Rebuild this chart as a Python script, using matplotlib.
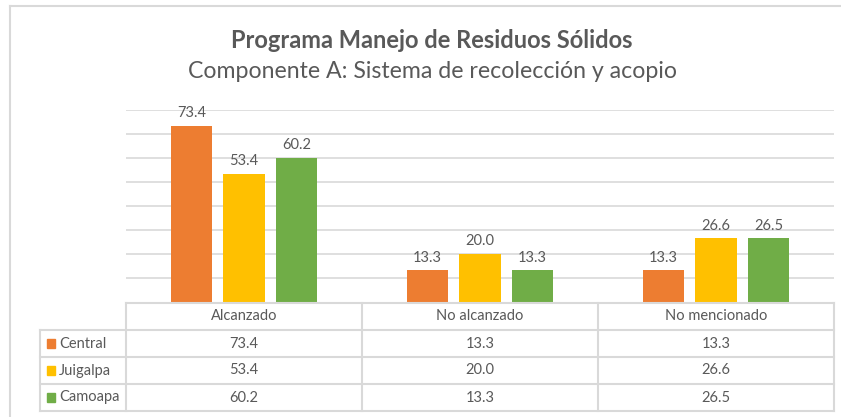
import matplotlib.pyplot as plt
from matplotlib.patches import Rectangle
import numpy as np

plt.rcParams['font.family'] = ['Lato', 'DejaVu Sans']

categories = ['Alcanzado', 'No alcanzado', 'No mencionado']
series = ['Central', 'Juigalpa', 'Camoapa']
central = [73.4, 13.3, 13.3]
juigalpa = [53.4, 20.0, 26.6]
camoapa = [60.2, 13.3, 26.5]
values = [central, juigalpa, camoapa]
colors = ['#ED7D31', '#FFC000', '#70AD47']

grid_col = '#d9d9d9'
txt_col = '#595959'

W, H = 841, 417
fig = plt.figure(figsize=(W / 100, H / 100), dpi=100)

# outer chart frame (cropped on the right and bottom)
fig.add_artist(plt.Line2D([10 / W, 10 / W], [0, 1 - 6 / H], color=grid_col, lw=1.5))
fig.add_artist(plt.Line2D([10 / W, 1], [1 - 6 / H, 1 - 6 / H], color=grid_col, lw=1.5))

fig.text(432 / W, 1 - 40 / H, 'Programa Manejo de Residuos Sólidos', ha='center', va='center',
         fontsize=17, fontweight='bold', color=txt_col)
fig.text(432 / W, 1 - 72 / H, 'Componente A: Sistema de recolección y acopio', ha='center', va='center',
         fontsize=16.7, color=txt_col)

# bar area
ax = fig.add_axes([126 / W, (H - 302) / H, 708 / W, 192 / H])
x = np.arange(len(categories))
step = 0.222
bw = 0.174
for i, (name, vals) in enumerate(zip(series, values)):
    pos = x + (i - 1) * step
    ax.bar(pos, vals, width=bw, color=colors[i], zorder=3)
    for p, v in zip(pos, vals):
        ax.text(p, v + 2.3, f'{v:.1f}', ha='center', va='bottom', fontsize=10.5, color=txt_col)

ax.set_xlim(-0.5, 2.5)
ax.set_ylim(0, 80)
ax.set_yticks(np.arange(10, 81, 10))
ax.grid(axis='y', color=grid_col, lw=1.2, zorder=0)
ax.tick_params(left=False, bottom=False, labelleft=False, labelbottom=False)
for s in ax.spines.values():
    s.set_visible(False)

# data table with legend keys
leg_w = 86 / 236
tx = fig.add_axes([40 / W, (H - 411) / H, 794 / W, 108 / H])
tx.set_xlim(-0.5 - leg_w, 2.5)
tx.set_ylim(4, 0)
tx.axis('off')
lc = dict(color=grid_col, lw=1.5, clip_on=False)
tx.plot([-0.5, 2.5], [0, 0], **lc)
for r in range(1, 5):
    tx.plot([-0.5 - leg_w, 2.5], [r, r], **lc)
for c in [-0.5, 0.5, 1.5, 2.5]:
    tx.plot([c, c], [0, 4], **lc)
tx.plot([-0.5 - leg_w, -0.5 - leg_w], [1, 4], **lc)

for j, cat in enumerate(categories):
    tx.text(j, 0.5, cat, ha='center', va='center', fontsize=10.5, color=txt_col)
for i, (name, vals) in enumerate(zip(series, values)):
    y = i + 1.5
    tx.add_patch(Rectangle((-0.5 - leg_w + 0.03, y - 0.16), 0.032, 0.32, color=colors[i], clip_on=False))
    tx.text(-0.5 - leg_w + 0.08, y, name, ha='left', va='center', fontsize=10.5, color=txt_col)
    for j, v in enumerate(vals):
        tx.text(j, y, f'{v:.1f}', ha='center', va='center', fontsize=10.5, color=txt_col)

fig.savefig('out.png', dpi=100)
